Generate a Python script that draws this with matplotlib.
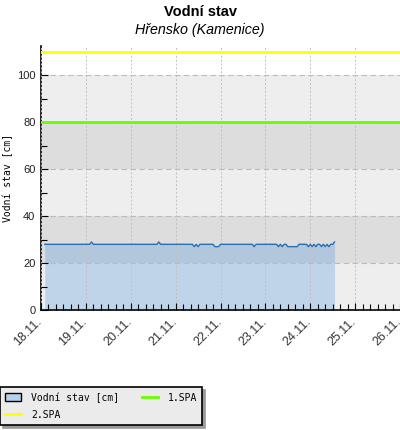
import matplotlib
matplotlib.use("Agg")
import matplotlib.pyplot as plt
import matplotlib.dates as mdates
import matplotlib.transforms as mtransforms
from matplotlib.patches import Patch
from matplotlib.lines import Line2D
import pandas as pd

# hourly water level [cm], first reading 18.11. 02:00
start = "2023-11-18 02:00"
levels = (
    [28] * 22 +                                                                                      # 18.11. 02-23
    [28, 28, 28, 29, 28, 28, 28, 28, 28, 28, 28, 28, 28, 28, 28, 28, 28, 28, 28, 28, 28, 28, 28, 28] +  # 19.11.
    [28, 28, 28, 28, 28, 28, 28, 28, 28, 28, 28, 28, 28, 28, 28, 29, 28, 28, 28, 28, 28, 28, 28, 28] +  # 20.11.
    [28, 28, 28, 28, 28, 28, 28, 28, 28, 28, 27, 28, 27, 28, 28, 28, 28, 28, 28, 28, 28, 27, 27, 27] +  # 21.11.
    [28, 28, 28, 28, 28, 28, 28, 28, 28, 28, 28, 28, 28, 28, 28, 28, 28, 28, 27, 28, 28, 28, 28, 28] +  # 22.11.
    [28, 28, 28, 28, 28, 28, 28, 27, 28, 27, 28, 28, 27, 27, 27, 27, 27, 27, 28, 28, 28, 28, 28, 27] +  # 23.11.
    [28, 27, 28, 27, 28, 28, 27, 28, 27, 28, 27, 28, 28, 29]                                          # 24.11. 00-13
)
spa1 = 80
spa2 = 110
x_start = "2023-11-18"
x_end = "2023-11-26"
times = pd.date_range(start, periods=len(levels), freq="h")

fig = plt.figure(figsize=(4, 4.3), dpi=100)
ax = fig.add_axes([0.1025, 0.279, 0.8975, 0.614])

# alternating background bands
for i, lo in enumerate(range(0, 100, 20)):
    ax.axhspan(lo, lo + 20, color="#eeeeee" if i % 2 == 0 else "#dddddd", zorder=0, lw=0)

ax.fill_between(times, 0, levels, color="#2a84dc", alpha=0.24, lw=0, zorder=2)
ax.plot(times, levels, color="#2a6db0", lw=1.0, zorder=3)
ax.axhline(spa1, color="#66ff00", lw=2.0, zorder=4)
ax.axhline(spa2, color="#ffff00", lw=2.0, zorder=4)

ax.set_xlim(pd.Timestamp(x_start), pd.Timestamp(x_end))
ax.set_ylim(0, 112.5)

ax.yaxis.grid(True, color="#bbbbbb", ls=(0, (5, 3)), lw=0.8)
ax.xaxis.grid(True, color="#c0c0c0", ls=(0, (2, 2)), lw=0.7)
ax.set_axisbelow(False)
for line in ax.get_xgridlines() + ax.get_ygridlines():
    line.set_zorder(1)

ax.set_yticks(range(0, 101, 20))
ax.set_yticks(range(10, 111, 20), minor=True)
ax.xaxis.set_major_locator(mdates.DayLocator())
ax.xaxis.set_minor_locator(mdates.HourLocator(byhour=range(0, 24, 4)))
ax.xaxis.set_major_formatter(mdates.DateFormatter("%d.%m."))

ax.tick_params(axis="both", which="both", direction="in", color="black", width=0.8)
ax.tick_params(axis="both", which="major", length=5)
ax.tick_params(axis="both", which="minor", length=4)
ax.tick_params(axis="y", labelsize=8, labelcolor="#222222", pad=4)
ax.tick_params(axis="x", labelsize=9, labelcolor="#333333", pad=4)
for lab in ax.get_yticklabels():
    lab.set_fontfamily("Liberation Sans")
shift = mtransforms.ScaledTranslation(-5 / 100, 0, fig.dpi_scale_trans)
for lab in ax.get_xticklabels():
    lab.set_fontfamily("Liberation Sans")
    lab.set_rotation(45)
    lab.set_ha("right")
    lab.set_rotation_mode("anchor")
    lab.set_transform(lab.get_transform() + shift)

for side in ["top", "right"]:
    ax.spines[side].set_visible(False)
ax.spines["left"].set_linewidth(1.2)
ax.spines["bottom"].set_linewidth(1.2)

ax.set_ylabel("Vodní stav [cm]", fontfamily="DejaVu Sans Mono", fontsize=7, labelpad=3)

fig.text(0.5, 0.973, "Vodní stav", ha="center", va="center", fontsize=10.5,
         fontweight="bold", fontfamily="Liberation Sans")
fig.text(0.5, 0.93, "Hřensko (Kamenice)", ha="center", va="center", fontsize=10.3,
         fontstyle="italic", fontfamily="Liberation Sans")

handles = [
    Patch(facecolor="#b9d1e8", edgecolor="black", lw=1),
    Line2D([], [], color="#ffff00", lw=2),
    Line2D([], [], color="#66ff00", lw=2),
]
labels = ["Vodní stav [cm]", "2.SPA", "1.SPA"]
leg = fig.legend(handles, labels, ncol=2, loc="lower left", bbox_to_anchor=(0.0, 0.012),
                 prop={"family": "DejaVu Sans Mono", "size": 7}, frameon=True,
                 fancybox=False, shadow={"color": "#999999", "alpha": 1}, borderpad=0.5,
                 handlelength=1.7, handleheight=0.9, columnspacing=2.3, labelspacing=0.75,
                 handletextpad=1.0, borderaxespad=0)
leg.get_frame().set_facecolor("#ebebeb")
leg.get_frame().set_edgecolor("black")
leg.get_frame().set_linewidth(1.2)

fig.savefig("out.png", dpi=100)
